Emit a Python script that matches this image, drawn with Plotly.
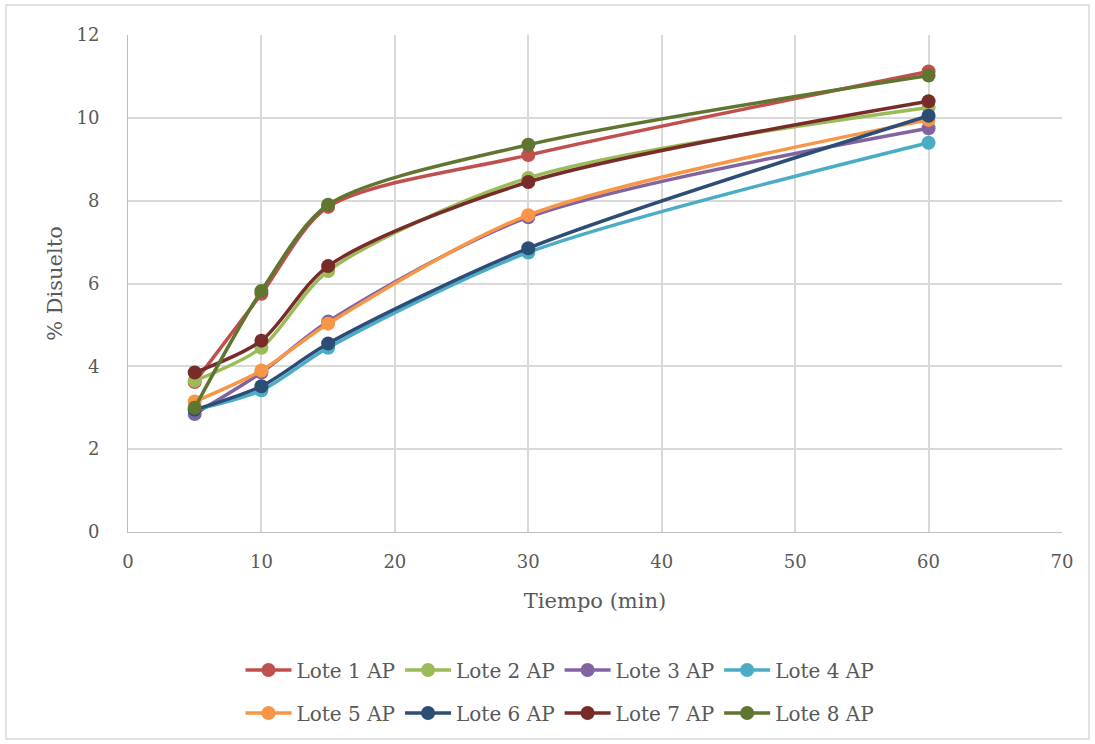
import plotly.graph_objects as go

tiempo = [5, 10, 15, 30, 60]
lote1 = [3.62, 5.75, 7.85, 9.10, 11.12]
lote2 = [3.65, 4.45, 6.30, 8.55, 10.25]
lote3 = [2.85, 3.85, 5.08, 7.60, 9.75]
lote4 = [2.95, 3.42, 4.45, 6.75, 9.40]
lote5 = [3.15, 3.90, 5.03, 7.65, 9.95]
lote6 = [2.95, 3.52, 4.55, 6.85, 10.05]
lote7 = [3.85, 4.62, 6.42, 8.45, 10.40]
lote8 = [3.00, 5.82, 7.90, 9.35, 11.02]

names = ["Lote 1 AP", "Lote 2 AP", "Lote 3 AP", "Lote 4 AP",
         "Lote 5 AP", "Lote 6 AP", "Lote 7 AP", "Lote 8 AP"]
series = [lote1, lote2, lote3, lote4, lote5, lote6, lote7, lote8]
colors = ["#C0504D", "#9BBB59", "#8064A2", "#4BACC6",
          "#F79646", "#2C4D75", "#772C2A", "#5F7530"]

FONT = "DejaVu Serif"
TXT = "#595959"
fig = go.Figure()
for i, (n, s, c) in enumerate(zip(names, series, colors)):
    fig.add_trace(go.Scatter(
        x=tiempo, y=s, name=n, mode="lines+markers",
        line=dict(color=c, width=3.5, shape="spline", smoothing=0.8),
        marker=dict(color=c, size=14),
        legend="legend" if i < 4 else "legend2",
    ))

W, H = 1095, 744
l, r, t, b = 128, 33, 35, 212
pw, ph = W - l - r, H - t - b

def px(xp):
    return (xp - l) / pw

def py(yp):
    return (H - b - yp) / ph

leg_common = dict(orientation="h", xanchor="center", yanchor="middle",
                  font=dict(family=FONT, size=20, color=TXT),
                  bgcolor="rgba(0,0,0,0)", itemwidth=46,
                  xref="paper", yref="paper", tracegroupgap=0)

fig.update_layout(
    width=W, height=H,
    margin=dict(l=l, r=r, t=t, b=b),
    paper_bgcolor="white", plot_bgcolor="white",
    font=dict(family=FONT, color=TXT),
    showlegend=True,
    legend=dict(x=px(560), y=py(670), **leg_common),
    legend2=dict(x=px(560), y=py(713), **leg_common),
    xaxis=dict(range=[0, 70], dtick=10, tick0=0,
               showgrid=True, gridcolor="#D9D9D9", gridwidth=1.5,
               showline=True, linecolor="#BFBFBF", linewidth=1,
               ticks="", zeroline=False, ticklabelstandoff=13,
               tickfont=dict(family=FONT, size=18, color=TXT),
               title=dict(text="Tiempo (min)", font=dict(family=FONT, size=21, color=TXT),
                          standoff=22)),
    yaxis=dict(range=[0, 12], dtick=2, tick0=0,
               showgrid=True, gridcolor="#D9D9D9", gridwidth=1.5,
               showline=True, linecolor="#BFBFBF", linewidth=1,
               ticks="", zeroline=False, ticklabelstandoff=24,
               tickfont=dict(family=FONT, size=18, color=TXT),
               title=dict(text="% Disuelto", font=dict(family=FONT, size=21, color=TXT),
                          standoff=8)),
    shapes=[dict(type="rect", xref="paper", yref="paper",
                 x0=px(6), x1=px(1089), y0=py(739), y1=py(5),
                 line=dict(color="#D9D9D9", width=1.5), fillcolor="rgba(0,0,0,0)",
                 layer="below")],
)

fig.write_html("out.html")
